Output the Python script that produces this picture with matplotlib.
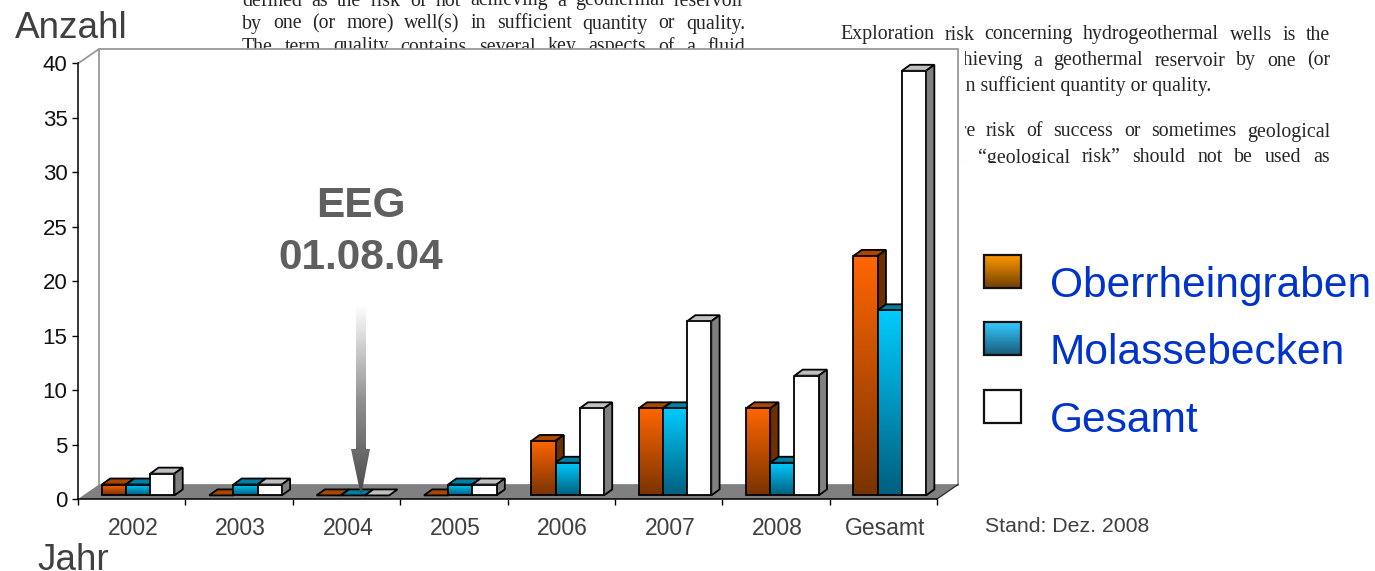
import numpy as np
import matplotlib
matplotlib.use("Agg")
from matplotlib import pyplot as plt
from matplotlib.colors import LinearSegmentedColormap
from matplotlib.patches import Polygon, Rectangle

years = ["2002", "2003", "2004", "2005", "2006", "2007", "2008", "Gesamt"]
oberrhein = [1, 0, 0, 0, 5, 8, 8, 22]
molasse = [1, 1, 0, 1, 3, 8, 3, 17]
gesamt = [2, 1, 0, 1, 8, 16, 11, 39]
y_ticks = [0, 5, 10, 15, 20, 25, 30, 35, 40]
series_names = ["Oberrheingraben", "Molassebecken", "Gesamt"]

page_left = [
    "defined as the risk of not achieving a geothermal reservoir",
    "by one (or more) well(s) in sufficient quantity or quality.",
    "The term quality contains several key aspects of a fluid",
]
page_right = [
    "Exploration risk concerning hydrogeothermal wells is the",
    "risk of not achieving a geothermal reservoir by one (or",
    "more) well(s) in sufficient quantity or quality.",
    "Other terms are risk of success or sometimes geological",
    "risk. The term “geological risk” should not be used as",
]

W, H = 1375, 571
plt.rcParams["font.family"] = ["Liberation Sans", "DejaVu Sans"]

fig = plt.figure(figsize=(W / 100, H / 100), dpi=100, facecolor="white")

# pixel-coordinate layers below and above the chart
bg = fig.add_axes([0, 0, 1, 1], zorder=0)
bg.set_xlim(0, W)
bg.set_ylim(H, 0)
bg.axis("off")

ax = fig.add_axes([78 / W, (H - 499) / H, 859 / W, 435.5 / H], zorder=1)
ax.patch.set_alpha(0)

top = fig.add_axes([0, 0, 1, 1], zorder=2)
top.set_xlim(0, W)
top.set_ylim(H, 0)
top.axis("off")

PAGE_SIZE = 14.3


def justified(line, x0, x1, y):
    # spread the words of a line evenly between x0 and x1
    words = line.split()
    rend = fig.canvas.get_renderer()
    items = [bg.text(x0, y, w, fontsize=PAGE_SIZE, family="Liberation Serif",
                     color="#262626", va="center", ha="left") for w in words]
    widths = [t.get_window_extent(rend).width for t in items]
    gap = (x1 - x0 - sum(widths)) / (len(words) - 1)
    x = x0
    for t, wd in zip(items, widths):
        t.set_x(x)
        x += wd + gap


for line, y in zip(page_left, [1, 24, 47]):
    justified(line, 242, 745, y)
justified(page_right[0], 840, 1330, 35)
justified(page_right[1], 840, 1330, 61)
bg.text(1211, 86, page_right[2], fontsize=PAGE_SIZE, family="Liberation Serif",
        color="#262626", va="center", ha="right")
justified(page_right[3], 840, 1330, 132)
justified(page_right[4], 840, 1330, 158)
# the chart frame was pasted over the page, which cuts the text off
bg.add_patch(Rectangle((935, 48), 30, 130, fc="white", ec="none", zorder=5))
bg.add_patch(Rectangle((935, 163), 420, 30, fc="white", ec="none", zorder=5))

# depth of the 3d look, in data units
wall_dx = 21 / 107.4
wall_dy = 14.5 / 10.89
bar_dx = 8.3 / 107.4
bar_dy = 6 / 10.89
bar_w = 24.2 / 107.4
bar_start = 0.222
base = 0.33

ax.set_xlim(0, 8)
ax.set_ylim(0, 40)

# back wall and floor
ax.add_patch(Polygon([(wall_dx, wall_dy), (8 + wall_dx, wall_dy), (8 + wall_dx, 40 + wall_dy),
                      (wall_dx, 40 + wall_dy)], fc="white", ec="#999999", lw=1.3,
                     clip_on=False, zorder=1))
ax.add_patch(Polygon([(0, 0), (wall_dx, wall_dy), (8 + wall_dx, wall_dy), (8, 0)],
                     fc="#808080", ec="none", clip_on=False, zorder=1.5))
ax.plot([8, 8 + wall_dx], [0, wall_dy], color="#333333", lw=1, clip_on=False, zorder=1.6)
ax.plot([0, wall_dx], [40, 40 + wall_dy], color="#999999", lw=1.3, clip_on=False, zorder=1.6)

orange = LinearSegmentedColormap.from_list("orange", ["#7A3300", "#FF6600"])
blue = LinearSegmentedColormap.from_list("blue", ["#005F7F", "#00CCFF"])
white = LinearSegmentedColormap.from_list("white", ["#FFFFFF", "#FFFFFF"])
ramp = np.linspace(1, 0, 128).reshape(-1, 1)

series = [
    (oberrhein, orange, "#A84800", "#6E3000"),
    (molasse, blue, "#007FA3", "#005F7F"),
    (gesamt, white, "#C0C0C0", "#808080"),
]

EDGE = 1.3
order = 2
for i in range(len(years)):
    for k, (vals, cmap, top_c, side_c) in enumerate(series):
        v = vals[i]
        x0 = i + bar_start + k * bar_w
        x1 = x0 + bar_w
        y0 = base
        y1 = base + v
        ax.add_patch(Polygon([(x0, y1), (x1, y1), (x1 + bar_dx, y1 + bar_dy), (x0 + bar_dx, y1 + bar_dy)],
                             fc=top_c, ec="black", lw=EDGE, clip_on=False, zorder=order))
        if v > 0:
            ax.add_patch(Polygon([(x1, y0), (x1 + bar_dx, y0 + bar_dy), (x1 + bar_dx, y1 + bar_dy), (x1, y1)],
                                 fc=side_c, ec="black", lw=EDGE, clip_on=False, zorder=order))
            ax.imshow(ramp, cmap=cmap, vmin=0, vmax=1, extent=[x0, x1, y0, y1], aspect="auto",
                      interpolation="bilinear", clip_on=False, zorder=order + 0.1)
            ax.add_patch(Rectangle((x0, y0), bar_w, v, fc="none", ec="black", lw=EDGE,
                                   clip_on=False, zorder=order + 0.2))
        order += 0.5

ax.set_xlim(0, 8)
ax.set_ylim(0, 40)

# axes
for side in ["top", "right"]:
    ax.spines[side].set_visible(False)
for side in ["left", "bottom"]:
    ax.spines[side].set_linewidth(1.1)
    ax.spines[side].set_zorder(30)
ax.set_yticks(y_ticks)
ax.tick_params(axis="y", length=4.5, width=1, pad=3, labelsize=16, labelcolor="#111111")
ax.set_xticks(range(len(years) + 1), labels=[])
ax.tick_params(axis="x", which="major", length=4.5, width=1)
ax.set_xticks(np.arange(len(years)) + 0.515, labels=years, minor=True)
ax.tick_params(axis="x", which="minor", length=0, pad=13, labelsize=16.5, labelcolor="#404040")

# axis titles and notes
top.text(15, 28, "Anzahl", fontsize=26.6, color="#404040", va="center", ha="left")
top.text(37, 560, "Jahr", fontsize=26.6, color="#404040", va="center", ha="left")
top.text(985, 526, "Stand: Dez. 2008", fontsize=15.3, color="#404040", va="center", ha="left")
top.text(361, 206, "EEG", fontsize=30.5, fontweight="bold", color="#5F5F5F", va="center", ha="center")
top.text(361, 258, "01.08.04", fontsize=30.5, fontweight="bold", color="#5F5F5F", va="center", ha="center")

# EEG arrow with a fade towards the tail
arrow_map = LinearSegmentedColormap.from_list("fade", ["#FFFFFF", "#909090", "#4A4A4A"])
arrow = Polygon([(356, 305), (366, 305), (366, 449), (370, 449), (361, 496), (351, 449), (356, 449)],
                fc="none", ec="none")
top.add_patch(arrow)
img = top.imshow(np.linspace(0, 1, 128).reshape(-1, 1), cmap=arrow_map, extent=[351, 371, 496, 305],
                 aspect="auto", interpolation="bilinear", zorder=3)
img.set_clip_path(arrow)
top.set_xlim(0, W)
top.set_ylim(H, 0)

# legend
swatches = [
    (["#704000", "#FF9900"], 255),
    (["#1A5A78", "#33CCFF"], 322),
    (["#FFFFFF", "#FFFFFF"], 390),
]
for name, (cols, sy) in zip(series_names, swatches):
    cm = LinearSegmentedColormap.from_list(name, cols)
    top.imshow(ramp, cmap=cm, vmin=0, vmax=1, extent=[984, 1021, sy + 33, sy], aspect="auto",
               interpolation="bilinear", zorder=3)
    top.add_patch(Rectangle((984, sy), 37, 33, fc="none", ec="#111111", lw=1.6, zorder=4))
    top.text(1050, sy + 31, name, fontsize=30.6, color="#0033CC", va="center", ha="left")
top.set_xlim(0, W)
top.set_ylim(H, 0)

fig.savefig("out.png", dpi=100)
